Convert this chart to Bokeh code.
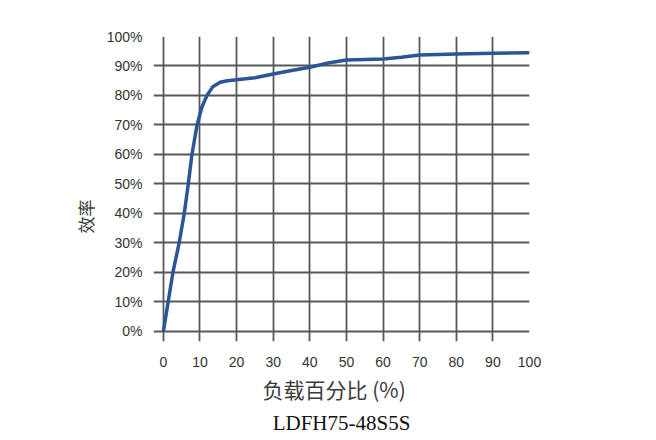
from bokeh.plotting import figure
from bokeh.models import FixedTicker, Title
from bokeh.embed import file_html
from bokeh.resources import INLINE

# Load percentage (%) and efficiency (%)
load_pct = [0, 2.6, 4.3, 5.7, 6.8, 7.8, 9.2, 10.5, 11.9, 13.5, 15.5, 17.5, 20,
            25, 30, 35, 40, 45, 50, 55, 60, 65, 70, 80, 90, 100]
efficiency = [0, 20, 30, 40, 50, 60, 70, 76, 80, 83, 84.5, 85, 85.3,
              86, 87.3, 88.5, 89.6, 91, 92, 92.2, 92.4, 93, 93.7, 94.1, 94.3, 94.5]

x_ticks = [0, 10, 20, 30, 40, 50, 60, 70, 80, 90, 100]
y_ticks = [0, 10, 20, 30, 40, 50, 60, 70, 80, 90, 100]
y_tick_labels = ["0%", "10%", "20%", "30%", "40%", "50%", "60%", "70%", "80%", "90%", "100%"]

x_title = "负载百分比 (%)"
y_title = "效率"
caption = "LDFH75-48S5S"

p = figure(output_backend="svg", toolbar_location=None,
           frame_width=376, frame_height=305,
           min_border_left=153, min_border_right=111,
           min_border_top=36, min_border_bottom=83,
           x_range=(-2.7, 100), y_range=(-3.4, 100))
p.outline_line_color = None
p.background_fill_color = "white"
p.border_fill_color = "white"

for g in (p.xgrid, p.ygrid):
    g.grid_line_color = "#585858"
    g.grid_line_width = 1.8
p.xaxis.ticker = FixedTicker(ticks=x_ticks)
p.yaxis.ticker = FixedTicker(ticks=y_ticks)
p.xgrid.ticker = FixedTicker(ticks=x_ticks)
p.ygrid.ticker = FixedTicker(ticks=y_ticks)
p.yaxis.major_label_overrides = {t: s for t, s in zip(y_ticks, y_tick_labels)}

for ax in (p.xaxis, p.yaxis):
    ax.axis_line_color = None
    ax.major_tick_line_color = None
    ax.minor_tick_line_color = None
    ax.major_label_text_font = "Liberation Sans"
    ax.major_label_text_font_size = "14px"
    ax.major_label_text_color = "#333333"
p.yaxis.major_label_standoff = 5
p.xaxis.major_label_standoff = 9

p.line(load_pct, efficiency, line_color="#2b5597", line_width=3.5)

p.add_layout(Title(text=x_title, align="left", offset=109, standoff=4,
                   text_font="Noto Sans CJK SC", text_font_size="21px",
                   text_font_style="normal", text_color="#3a3a3a"), "below")
p.add_layout(Title(text=caption, align="center", standoff=6,
                   text_font="Liberation Serif", text_font_size="21px",
                   text_font_style="normal", text_color="#111111"), "below")
p.add_layout(Title(text=y_title, align="left", offset=108, standoff=12,
                   text_font="Noto Sans CJK SC", text_font_size="17px",
                   text_font_style="normal", text_color="#3a3a3a"), "left")

open("out.html", "w").write(file_html(p, INLINE))
